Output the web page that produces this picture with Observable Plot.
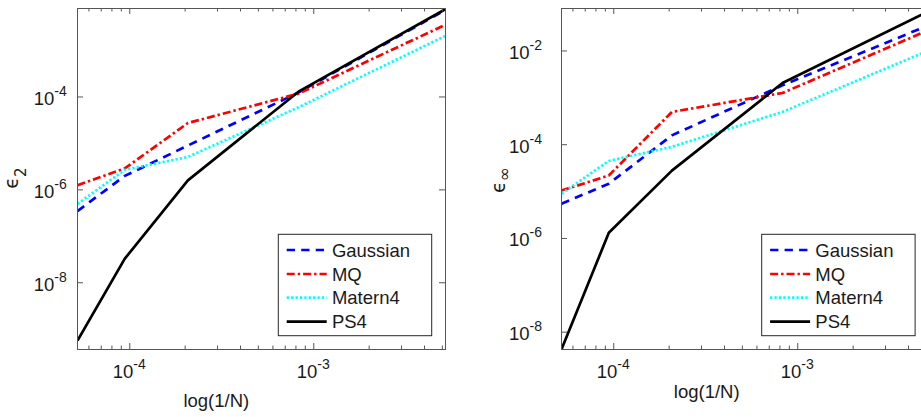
<!DOCTYPE html>
<html><head><meta charset="utf-8">
<script src="https://cdn.jsdelivr.net/npm/d3@7"></script>
<script src="https://cdn.jsdelivr.net/npm/@observablehq/plot@0.6"></script>
<style>
html,body{margin:0;padding:0;background:#fff;overflow:hidden;}
#wrap{display:flex;width:940px;height:417px;}
#wrap svg{display:block;flex:none;}
</style></head><body><div id="wrap"></div>
<script>
// ---- data ----
const xVals = [5.2e-5, 9.4e-5, 2.07e-4, 8.26e-4, 5.2e-3];
const seriesNames = ["Gaussian", "MQ", "Matern4", "PS4"];
// epsilon_2 panel
const gauss2  = [3.5e-7, 2.0e-6, 9.0e-6, 1.25e-4, 7.5e-3];
const mq2     = [1.26e-6, 2.9e-6, 2.75e-5, 1.18e-4, 3.6e-3];
const matern2 = [5.0e-7, 2.7e-6, 5.1e-6, 6.0e-5, 2.07e-3];
const ps2     = [5.7e-10, 3.3e-8, 1.6e-6, 1.3e-4, 7.8e-3];
// epsilon_inf panel
const gaussI  = [5.5e-6, 1.47e-5, 1.58e-4, 1.85e-3, 3.6e-2];
const mqI     = [1.05e-5, 2.2e-5, 5.0e-4, 1.27e-3, 2.84e-2];
const maternI = [9.0e-6, 4.5e-5, 9.0e-5, 5.0e-4, 1.04e-2];
const psI     = [4.3e-9, 1.32e-6, 2.8e-5, 2.07e-3, 7.2e-2];
// ticks
const xMajor = [1e-4, 1e-3];
const xMajorExp = ["-4", "-3"];
const xMinor = [6e-5, 7e-5, 8e-5, 9e-5, 2e-4, 3e-4, 4e-4, 5e-4, 6e-4, 7e-4, 8e-4, 9e-4, 2e-3, 3e-3, 4e-3, 5e-3];
const yTicks2 = [1e-8, 1e-6, 1e-4];
const yTicks2Exp = ["-8", "-6", "-4"];
const yTicksI = [1e-8, 1e-6, 1e-4, 1e-2];
const yTicksIExp = ["-8", "-6", "-4", "-2"];
const xLabel = "log(1/N)";

// ---- styles ----
const seriesColors = ["#0000ff", "#ff0000", "#00ffff", "#000000"];
const seriesDash = ["8.3,6.2", "8,3,2.4,3", "2.2,2.2", null];
const FONT = "'Liberation Sans', Arial, Helvetica, sans-serif";
const AX = "#555555";
const LW = 2.7;

function makePanel(p) {
  const H = 417, mt = 8, mb = 68;
  const pw = p.width - p.marginLeft - p.marginRight;
  const ph = H - mt - mb;
  const marks = [];
  p.series.forEach((vals, i) => {
    const pts = vals.map((v, j) => ({x: xVals[j], y: v}));
    marks.push(Plot.line(pts, {x: "x", y: "y", stroke: seriesColors[i], strokeWidth: LW,
      strokeDasharray: seriesDash[i], strokeLinecap: "butt", strokeLinejoin: "miter", clip: true}));
  });
  marks.push(Plot.ruleX(xMajor, {x: d => d, insetTop: ph - 6, stroke: AX}));
  marks.push(Plot.ruleX(xMajor, {x: d => d, insetBottom: ph - 6, stroke: AX}));
  marks.push(Plot.ruleX(xMinor, {x: d => d, insetTop: ph - 3.5, stroke: AX}));
  marks.push(Plot.ruleX(xMinor, {x: d => d, insetBottom: ph - 3.5, stroke: AX}));
  marks.push(Plot.ruleY(p.yTicks, {y: d => d, insetRight: pw - 6, stroke: AX}));
  marks.push(Plot.ruleY(p.yTicks, {y: d => d, insetLeft: pw - 6, stroke: AX}));
  marks.push(Plot.frame({stroke: AX, strokeWidth: 1}));
  marks.push((index, scales, values, dim) => {
    const x = scales.x, y = scales.y;
    const g = d3.create("svg:g").attr("font-family", FONT).attr("fill", "#1a1a1a")
      .attr("text-anchor", "start");
    const bottom = dim.height - dim.marginBottom;
    xMajor.forEach((v, k) => {
      const t = g.append("text").attr("x", x(v)).attr("y", bottom + 29)
        .attr("text-anchor", "middle").attr("font-size", 18.5);
      t.append("tspan").text("10");
      t.append("tspan").attr("font-size", 14).attr("dy", -9.5).text(xMajorExp[k]);
    });
    p.yTicks.forEach((v, k) => {
      const t = g.append("text").attr("x", p.yTickRight).attr("y", y(v) + 8.5)
        .attr("text-anchor", "end").attr("font-size", 18.5);
      t.append("tspan").text("10");
      t.append("tspan").attr("font-size", 14).attr("dy", -9).text(p.yTickExp[k]);
    });
    // y label
    const yl = g.append("text").attr("transform", `translate(${p.yLabelX},${p.yLabelY}) rotate(-90)`)
      .attr("text-anchor", "middle").attr("font-size", 19).attr("font-family", "'DejaVu Sans', sans-serif");
    yl.append("tspan").text("\u03F5");
    yl.append("tspan").attr("font-size", p.yLabelSubSize).attr("dy", p.yLabelSubDy).text(p.yLabelSub);
    // x label
    g.append("text").attr("x", p.xLabelX).attr("y", p.xLabelY).attr("text-anchor", "middle")
      .attr("font-size", 18.5).text(xLabel);
    // legend
    const lx = p.legendX, ly = 234.3, lw = 153.4, lh = 101.4;
    g.append("rect").attr("x", lx).attr("y", ly).attr("width", lw).attr("height", lh)
      .attr("fill", "#fff").attr("stroke", "#262626").attr("stroke-width", 1);
    const rowY = [250, 274, 297.7, 321.7];
    seriesNames.forEach((name, i) => {
      g.append("line").attr("x1", lx + 8.4).attr("x2", lx + 48.4).attr("y1", rowY[i]).attr("y2", rowY[i])
        .attr("stroke", seriesColors[i]).attr("stroke-width", LW)
        .attr("stroke-dasharray", seriesDash[i]);
      g.append("text").attr("x", lx + 53.6).attr("y", rowY[i] + 6.6).attr("text-anchor", "start")
        .attr("font-size", 18.5).text(name);
    });
    return g.node();
  });
  return Plot.plot({
    width: p.width, height: H,
    marginLeft: p.marginLeft, marginRight: p.marginRight, marginTop: mt, marginBottom: mb,
    style: {fontFamily: FONT, background: "#fff", overflow: "visible"},
    x: {type: "log", domain: [5.2e-5, 5.2e-3], axis: null},
    y: {type: "log", domain: p.yDomain, axis: null},
    marks
  });
}

const wrap = document.getElementById("wrap");
wrap.appendChild(makePanel({
  width: 460, marginLeft: 77, marginRight: 15,
  yDomain: [Math.pow(10, -9.437), Math.pow(10, -2.095)],
  series: [gauss2, mq2, matern2, ps2],
  yTicks: yTicks2, yTickExp: yTicks2Exp, yTickRight: 66.7,
  yLabelX: 18.3, yLabelY: 178, yLabelSub: "2", yLabelSubSize: 15, yLabelSubDy: 8,
  xLabelX: 216.3, xLabelY: 406.7, legendX: 278.3
}));
wrap.appendChild(makePanel({
  width: 480, marginLeft: 101, marginRight: 11,
  yDomain: [Math.pow(10, -8.37), Math.pow(10, -1.094)],
  series: [gaussI, mqI, maternI, psI],
  yTicks: yTicksI, yTickExp: yTicksIExp, yTickRight: 82,
  yLabelX: 45, yLabelY: 180, yLabelSub: "\u221E", yLabelSubSize: 17, yLabelSubDy: 5,
  xLabelX: 246.7, xLabelY: 398.3, legendX: 301.7
}));
</script>
</body></html>
